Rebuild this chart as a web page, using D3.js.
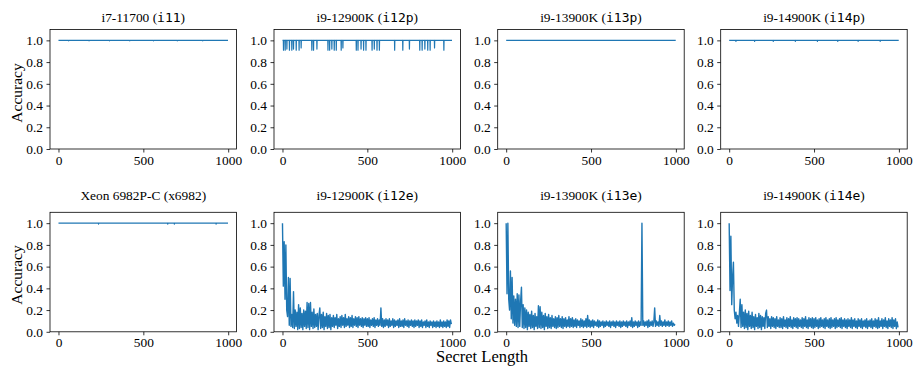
<!DOCTYPE html>
<html>
<head>
<meta charset="utf-8">
<script src="https://cdn.jsdelivr.net/npm/d3@7"></script>
<style>
  body { margin: 0; background: #fff; }
  svg text { fill: #000; }
  .axis path, .axis line { stroke: #000; stroke-width: 0.8px; }
</style>
</head>
<body>
<div id="chart"></div>
<script>
var SERIF = "'Liberation Serif', 'Times New Roman', Times, serif";
var MONO = "'DejaVu Sans Mono', 'Liberation Mono', monospace";

// panel titles: [serif part, monospace part]
var panelNames = [
  ["i7-11700", "i11"], ["i9-12900K", "i12p"], ["i9-13900K", "i13p"], ["i9-14900K", "i14p"],
  ["Xeon 6982P-C", "x6982"], ["i9-12900K", "i12e"], ["i9-13900K", "i13e"], ["i9-14900K", "i14e"]
];
var yTicks = [0, 0.2, 0.4, 0.6, 0.8, 1.0];
var xTicks = [0, 500, 1000];

// near-perfect series: accuracy is 1.0 except at these [secret length, accuracy] dips
var dipsI11 = [[60, 0.995], [180, 0.995], [300, 0.995], [420, 0.995], [560, 0.995], [700, 0.995], [850, 0.995]];
var dipsI12p = [[6, 0.91], [16, 0.91], [26, 0.92], [41, 0.91], [55, 0.91], [65, 0.92], [81, 0.91], [98, 0.91],
  [110, 0.93], [173, 0.91], [183, 0.91], [203, 0.92], [268, 0.91], [278, 0.91], [291, 0.92], [305, 0.91],
  [317, 0.91], [346, 0.91], [356, 0.93], [435, 0.91], [445, 0.91], [463, 0.92], [478, 0.91], [492, 0.91],
  [528, 0.91], [541, 0.92], [557, 0.91], [571, 0.91], [661, 0.91], [709, 0.91], [748, 0.92], [809, 0.91],
  [823, 0.91], [839, 0.92], [856, 0.91], [870, 0.91], [896, 0.93], [951, 0.91]];
var dipsI13p = [];
var dipsI14p = [[40, 0.99], [150, 0.99], [260, 0.99], [390, 0.99], [520, 0.99], [640, 0.99], [760, 0.99], [890, 0.99]];
var dipsX6982 = [[236, 0.99], [644, 0.99], [683, 0.99], [929, 0.99]];

// noisy series, sampled every 5 secret-length units (0..995)
var sampleX = d3.range(0, 1000, 5);
var accI12e = [
  1.00, 0.42, 0.83, 0.30, 0.80, 0.20, 0.14, 0.50, 0.06, 0.49, 0.05, 0.16, 0.04, 0.37, 0.03, 0.20, 0.05, 0.18, 0.02, 0.25,
  0.03, 0.22, 0.04, 0.17, 0.02, 0.20, 0.05, 0.19, 0.03, 0.27, 0.04, 0.26, 0.02, 0.27, 0.05, 0.18, 0.03, 0.21, 0.04, 0.16,
  0.05, 0.17, 0.02, 0.15, 0.22, 0.03, 0.16, 0.04, 0.18, 0.02, 0.14, 0.05, 0.17, 0.03, 0.15, 0.04, 0.16, 0.02, 0.13, 0.05,
  0.15, 0.04, 0.13, 0.06, 0.16, 0.03, 0.12, 0.05, 0.14, 0.04, 0.15, 0.06, 0.13, 0.04, 0.16, 0.05, 0.12, 0.06, 0.14, 0.04,
  0.13, 0.05, 0.15, 0.04, 0.12, 0.06, 0.14, 0.05, 0.13, 0.04, 0.14, 0.06, 0.12, 0.05, 0.13, 0.04, 0.12, 0.06, 0.13, 0.05,
  0.12, 0.05, 0.13, 0.04, 0.11, 0.06, 0.12, 0.05, 0.13, 0.04, 0.11, 0.06, 0.12, 0.05, 0.11, 0.06, 0.22, 0.05, 0.12, 0.04,
  0.11, 0.05, 0.12, 0.06, 0.11, 0.04, 0.12, 0.05, 0.10, 0.06, 0.12, 0.04, 0.11, 0.05, 0.10, 0.06, 0.11, 0.04, 0.12, 0.05,
  0.10, 0.05, 0.11, 0.04, 0.12, 0.06, 0.10, 0.05, 0.11, 0.04, 0.10, 0.06, 0.11, 0.05, 0.10, 0.04, 0.11, 0.05, 0.10, 0.06,
  0.11, 0.04, 0.10, 0.05, 0.11, 0.04, 0.09, 0.06, 0.10, 0.04, 0.11, 0.05, 0.09, 0.04, 0.10, 0.06, 0.09, 0.04, 0.10, 0.05,
  0.09, 0.04, 0.10, 0.05, 0.09, 0.04, 0.11, 0.05, 0.09, 0.04, 0.10, 0.05, 0.09, 0.04, 0.11, 0.05, 0.10, 0.04, 0.11, 0.07
];
var accI13e = [
  1.00, 0.35, 1.00, 0.30, 0.20, 0.56, 0.12, 0.50, 0.08, 0.33, 0.06, 0.30, 0.05, 0.35, 0.04, 0.34, 0.05, 0.28, 0.41, 0.04,
  0.25, 0.03, 0.22, 0.04, 0.20, 0.02, 0.18, 0.05, 0.16, 0.03, 0.19, 0.04, 0.15, 0.02, 0.17, 0.05, 0.14, 0.03, 0.24, 0.04,
  0.23, 0.03, 0.18, 0.04, 0.15, 0.02, 0.17, 0.05, 0.14, 0.03, 0.16, 0.04, 0.13, 0.03, 0.15, 0.05, 0.12, 0.04, 0.14, 0.03,
  0.13, 0.04, 0.15, 0.05, 0.12, 0.04, 0.14, 0.03, 0.12, 0.05, 0.13, 0.04, 0.11, 0.05, 0.14, 0.04, 0.12, 0.05, 0.13, 0.04,
  0.11, 0.05, 0.12, 0.04, 0.11, 0.06, 0.10, 0.04, 0.12, 0.05, 0.11, 0.04, 0.10, 0.05, 0.12, 0.04, 0.15, 0.05, 0.11, 0.04,
  0.10, 0.05, 0.11, 0.04, 0.10, 0.06, 0.09, 0.05, 0.11, 0.04, 0.10, 0.05, 0.09, 0.06, 0.10, 0.04, 0.09, 0.05, 0.10, 0.06,
  0.09, 0.05, 0.10, 0.04, 0.09, 0.06, 0.10, 0.05, 0.09, 0.04, 0.10, 0.06, 0.09, 0.05, 0.10, 0.04, 0.09, 0.05, 0.10, 0.06,
  0.09, 0.05, 0.10, 0.04, 0.09, 0.06, 0.10, 0.05, 0.13, 0.04, 0.09, 0.05, 0.10, 0.06, 0.09, 0.04, 0.10, 0.05, 0.09, 0.06,
  1.00, 0.06, 0.10, 0.05, 0.09, 0.06, 0.10, 0.04, 0.11, 0.05, 0.09, 0.06, 0.10, 0.05, 0.09, 0.22, 0.05, 0.10, 0.06, 0.09,
  0.05, 0.15, 0.06, 0.10, 0.05, 0.09, 0.06, 0.11, 0.05, 0.09, 0.06, 0.10, 0.05, 0.09, 0.06, 0.10, 0.05, 0.08, 0.06, 0.07
];
var accI14e = [
  1.00, 0.38, 0.88, 0.25, 0.50, 0.64, 0.20, 0.12, 0.18, 0.08, 0.15, 0.05, 0.17, 0.30, 0.04, 0.25, 0.05, 0.18, 0.03, 0.20,
  0.04, 0.17, 0.02, 0.19, 0.05, 0.15, 0.03, 0.18, 0.04, 0.14, 0.02, 0.16, 0.05, 0.13, 0.03, 0.17, 0.04, 0.15, 0.02, 0.14,
  0.05, 0.13, 0.03, 0.17, 0.20, 0.04, 0.14, 0.05, 0.12, 0.03, 0.14, 0.05, 0.13, 0.04, 0.12, 0.03, 0.14, 0.05, 0.11, 0.04,
  0.13, 0.04, 0.12, 0.03, 0.14, 0.05, 0.11, 0.04, 0.13, 0.03, 0.12, 0.05, 0.14, 0.04, 0.11, 0.03, 0.13, 0.05, 0.12, 0.04,
  0.13, 0.03, 0.12, 0.05, 0.11, 0.04, 0.13, 0.03, 0.12, 0.05, 0.14, 0.04, 0.11, 0.03, 0.13, 0.05, 0.12, 0.04, 0.13, 0.03,
  0.12, 0.04, 0.13, 0.05, 0.11, 0.03, 0.12, 0.04, 0.13, 0.05, 0.11, 0.04, 0.12, 0.03, 0.13, 0.05, 0.11, 0.04, 0.12, 0.03,
  0.13, 0.04, 0.11, 0.05, 0.12, 0.03, 0.13, 0.04, 0.11, 0.05, 0.12, 0.04, 0.13, 0.03, 0.11, 0.05, 0.12, 0.04, 0.11, 0.03,
  0.12, 0.05, 0.11, 0.04, 0.13, 0.03, 0.11, 0.05, 0.12, 0.04, 0.10, 0.03, 0.12, 0.05, 0.11, 0.04, 0.12, 0.03, 0.10, 0.05,
  0.11, 0.04, 0.12, 0.03, 0.10, 0.05, 0.11, 0.04, 0.12, 0.03, 0.10, 0.05, 0.12, 0.04, 0.11, 0.03, 0.13, 0.04, 0.10, 0.05,
  0.12, 0.03, 0.11, 0.05, 0.13, 0.04, 0.10, 0.03, 0.12, 0.05, 0.11, 0.04, 0.13, 0.03, 0.11, 0.05, 0.12, 0.03, 0.09, 0.04
];

function flatSeries(dips) {
  var pts = [[0, 1]];
  dips.forEach(function (d) {
    pts.push([d[0] - 1, 1], d, [d[0] + 1, 1]);
  });
  pts.push([999, 1]);
  return pts;
}
function sampledSeries(values) {
  return values.map(function (v, i) { return [sampleX[i], v]; });
}

var series = [
  flatSeries(dipsI11), flatSeries(dipsI12p), flatSeries(dipsI13p), flatSeries(dipsI14p),
  flatSeries(dipsX6982), sampledSeries(accI12e), sampledSeries(accI13e), sampledSeries(accI14e)
];

var width = 913, height = 366;
var colLeft = [50, 274, 497.7, 720.7], rowTop = [29.5, 212.3];
var panelW = 186.5, panelH = 119.5;
var lineColor = "#1f77b4";

var svg = d3.select("#chart").append("svg")
  .attr("width", width)
  .attr("height", height);

var xScale = d3.scaleLinear().domain([-49.95, 1048.95]).range([0, panelW]);
var yScale = d3.scaleLinear().domain([0, 1.1]).range([panelH, 0]);

var line = d3.line()
  .x(function (d) { return xScale(d[0]); })
  .y(function (d) { return yScale(d[1]); });

series.forEach(function (data, i) {
  var row = Math.floor(i / 4), col = i % 4;
  var g = svg.append("g")
    .attr("transform", "translate(" + colLeft[col] + "," + rowTop[row] + ")");

  g.append("path")
    .datum(data)
    .attr("d", line)
    .attr("fill", "none")
    .attr("stroke", lineColor)
    .attr("stroke-width", i >= 5 ? 1.4 : 1.2)
    .attr("stroke-linejoin", "round");

  g.append("g")
    .attr("class", "axis")
    .attr("transform", "translate(0," + panelH + ")")
    .call(d3.axisBottom(xScale).tickValues(xTicks).tickFormat(d3.format("d")).tickSize(3.5).tickPadding(2.5).tickSizeOuter(0))
    .call(function (a) { a.select(".domain").remove(); })
    .selectAll("text")
    .style("font-size", "13.4px")
    .style("font-family", SERIF);

  g.append("g")
    .attr("class", "axis")
    .call(d3.axisLeft(yScale).tickValues(yTicks).tickFormat(d3.format(".1f")).tickSize(3.5).tickPadding(3.5).tickSizeOuter(0))
    .call(function (a) { a.select(".domain").remove(); })
    .selectAll("text")
    .style("font-size", "13.4px")
    .style("font-family", SERIF);

  // frame
  g.append("rect")
    .attr("width", panelW)
    .attr("height", panelH)
    .attr("fill", "none")
    .attr("stroke", "#000")
    .attr("stroke-width", 0.8);

  var title = g.append("text")
    .attr("x", panelW / 2)
    .attr("y", row === 0 ? -8 : -12.5)
    .attr("text-anchor", "middle")
    .style("font-family", SERIF)
    .style("font-size", "13.4px");
  title.append("tspan").text(panelNames[i][0] + " (");
  title.append("tspan")
    .style("font-family", i === 4 ? SERIF : MONO)
    .style("font-size", i === 4 ? "13.4px" : "13px")
    .text(panelNames[i][1]);
  title.append("tspan").text(")");
});

// shared axis labels
[93, 275].forEach(function (cy) {
  svg.append("text")
    .attr("transform", "translate(21.5," + cy + ")rotate(-90)")
    .attr("text-anchor", "middle")
    .style("font-family", SERIF)
    .style("font-size", "15.5px")
    .text("Accuracy");
});

svg.append("text")
  .attr("x", 482)
  .attr("y", 362)
  .attr("text-anchor", "middle")
  .style("font-family", SERIF)
  .style("font-size", "16.5px")
  .text("Secret Length");
</script>
</body>
</html>
